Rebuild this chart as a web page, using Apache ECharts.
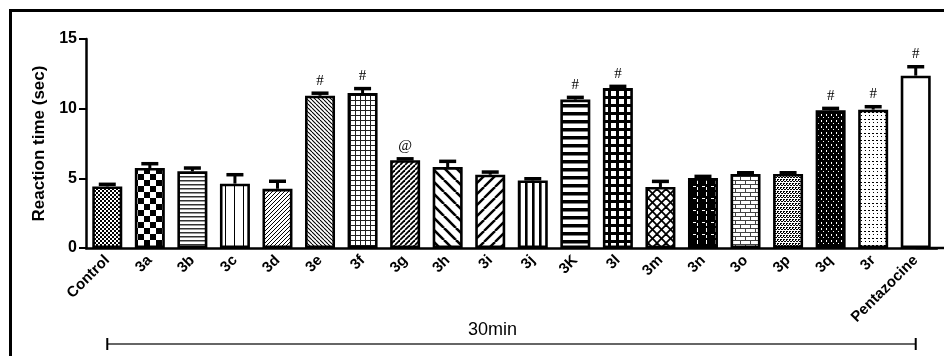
<!DOCTYPE html>
<html>
<head>
<meta charset="utf-8">
<script src="https://cdn.jsdelivr.net/npm/echarts@6/dist/echarts.min.js"></script>
<style>
  html, body { margin: 0; padding: 0; background: #fff; }
  #chart { width: 944px; height: 356px; }
</style>
</head>
<body>
<div id="chart"></div>
<script>
// Reaction time per compound at 30 min (mean and upper error)
const categories = ['Control', '3a', '3b', '3c', '3d', '3e', '3f', '3g', '3h', '3i', '3j',
  '3K', '3l', '3m', '3n', '3o', '3p', '3q', '3r', 'Pentazocine'];
const means = [4.42, 5.74, 5.50, 4.62, 4.25, 10.93, 11.12, 6.30, 5.81, 5.26, 4.85,
  10.65, 11.48, 4.38, 5.02, 5.31, 5.31, 9.88, 9.93, 12.37];
const errors = [0.15, 0.31, 0.24, 0.64, 0.54, 0.18, 0.32, 0.10, 0.41, 0.19, 0.12,
  0.16, 0.12, 0.40, 0.12, 0.09, 0.09, 0.14, 0.21, 0.64];
const marks = ['', '', '', '', '', '#', '#', '@', '', '', '',
  '#', '#', '', '', '', '', '#', '#', '#'];
const yTicks = [0, 5, 10, 15];
const yTitle = 'Reaction time (sec)';
const groupLabel = '30min';

// ---- fill patterns (one per bar) ----
function tile(w, h, bg, draw) {
  const c = document.createElement('canvas');
  c.width = w; c.height = h;
  const g = c.getContext('2d');
  g.fillStyle = bg; g.fillRect(0, 0, w, h);
  g.fillStyle = '#000'; g.strokeStyle = '#000';
  draw(g, w, h);
  return { image: c, repeat: 'repeat' };
}
function checker(s) {
  return tile(2 * s, 2 * s, '#fff', g => { g.fillRect(0, 0, s, s); g.fillRect(s, s, s, s); });
}
function hlines(p, w, col) {
  return tile(4, p, '#fff', g => { g.fillStyle = col || '#000'; g.fillRect(0, 0, 4, w); });
}
function vlines(p, w, col) {
  return tile(p, 4, '#fff', g => { g.fillStyle = col || '#000'; g.fillRect(0, 0, w, 4); });
}
function diag(p, w, dir) {
  return tile(p, p, '#fff', g => {
    g.lineWidth = w;
    for (let k = -1; k <= 1; k++) {
      g.beginPath();
      if (dir === '/') { g.moveTo(k * p, p); g.lineTo(k * p + p, 0); }
      else { g.moveTo(k * p, 0); g.lineTo(k * p + p, p); }
      g.stroke();
    }
  });
}
function grid(p, w, col) {
  return tile(p, p, '#fff', g => { g.fillStyle = col || '#000'; g.fillRect(0, 0, p, w); g.fillRect(0, 0, w, p); });
}
function cross(p, w) {
  return tile(p, p, '#fff', g => {
    g.lineWidth = w;
    for (let k = -1; k <= 1; k++) {
      g.beginPath(); g.moveTo(k * p, p); g.lineTo(k * p + p, 0); g.stroke();
      g.beginPath(); g.moveTo(k * p, 0); g.lineTo(k * p + p, p); g.stroke();
    }
  });
}
function pixels(w, h, bg, fg, pts) {
  return tile(w, h, bg, g => { g.fillStyle = fg; pts.forEach(q => g.fillRect(q[0], q[1], q[2] || 1, q[3] || 1)); });
}

const fills = [
  checker(2),                       // Control
  checker(6),                       // 3a
  tile(4, 4, '#fff', g => { g.fillStyle = '#333'; g.fillRect(0, 0, 4, 1); g.fillStyle = '#999'; g.fillRect(0, 1, 4, 1); }), // 3b
  vlines(9, 1),                     // 3c
  diag(4, 1, '/'),                  // 3d
  diag(4, 1.1, '\\'),               // 3e
  grid(5, 1, '#222'),               // 3f
  diag(5, 1.8, '/'),                // 3g
  diag(12, 2.6, '\\'),              // 3h
  diag(11, 2.4, '/'),               // 3i
  vlines(7, 2.6),                   // 3j
  hlines(8, 3.5),                   // 3K
  grid(8, 3),                       // 3l
  cross(9, 1.8),                    // 3m
  pixels(9, 12, '#000', '#fff', [[4, 0, 1, 4], [4, 7, 1, 3], [0, 6, 3, 1]]), // 3n
  tile(10, 8, '#fff', g => {        // 3o brick
    g.fillStyle = '#444';
    g.fillRect(0, 0, 10, 1); g.fillRect(0, 4, 10, 1);
    g.fillRect(0, 0, 1, 4); g.fillRect(5, 4, 1, 4);
  }),
  pixels(6, 4, '#fff', '#000', [[0, 0], [3, 0], [1, 1, 2, 1], [4, 1, 2, 1], [0, 3, 2, 1], [3, 3, 2, 1]]), // 3p
  pixels(5, 6, '#000', '#fff', [[1, 0, 1, 2], [3, 3, 1, 1]]), // 3q
  pixels(4, 7, '#fff', '#000', [[0, 0, 2, 1], [1, 3, 1, 1]]), // 3r
  '#fff'                            // Pentazocine
];

const font = '"Liberation Sans", Arial, sans-serif';

const chart = echarts.init(document.getElementById('chart'), null, { renderer: 'canvas' });

const option = {
  animation: false,
  backgroundColor: '#fff',
  grid: { left: 86, right: 7, top: 39, bottom: 108, containLabel: false },
  xAxis: {
    type: 'category',
    data: categories,
    boundaryGap: true,
    axisLine: { lineStyle: { color: '#000', width: 2.5 } },
    axisTick: { alignWithLabel: true, length: 6, lineStyle: { color: '#000', width: 2 } },
    axisLabel: {
      interval: 0, rotate: 45, margin: 10,
      color: '#000', fontFamily: font, fontWeight: 'bold', fontSize: 15
    },
    splitLine: { show: false }
  },
  yAxis: {
    type: 'value',
    min: yTicks[0], max: yTicks[yTicks.length - 1], interval: 5,
    name: yTitle,
    nameLocation: 'middle', nameRotate: 90, nameGap: 37,
    nameTextStyle: { color: '#000', fontFamily: font, fontWeight: 'bold', fontSize: 17 },
    axisLine: { show: true, lineStyle: { color: '#000', width: 2.5 } },
    axisTick: { show: true, length: 7, lineStyle: { color: '#000', width: 2 } },
    axisLabel: { margin: 9, color: '#000', fontFamily: font, fontWeight: 'bold', fontSize: 16 },
    splitLine: { show: false }
  },
  series: [
    {
      type: 'bar',
      barWidth: 30,
      data: means.map((m, i) => ({
        value: m,
        itemStyle: { color: fills[i], borderColor: '#000', borderWidth: 2.6 }
      })),
      z: 2
    },
    {
      type: 'custom',
      z: 3,
      data: means.map((m, i) => [i, m, errors[i]]),
      renderItem: function (params, api) {
        const i = api.value(0);
        const m = api.value(1);
        const e = api.value(2);
        const base = api.coord([i, m]);
        const top = api.coord([i, m + e]);
        const children = [
          { type: 'line', shape: { x1: base[0], y1: base[1], x2: top[0], y2: top[1] },
            style: { stroke: '#000', lineWidth: 3 } },
          { type: 'line', shape: { x1: top[0] - 8.5, y1: top[1], x2: top[0] + 8.5, y2: top[1] },
            style: { stroke: '#000', lineWidth: 3.5 } }
        ];
        const t = marks[params.dataIndex];
        if (t) {
          children.push({
            type: 'text',
            style: {
              text: t, x: top[0], y: top[1] - 5,
              align: 'center', verticalAlign: 'bottom',
              textAlign: 'center', textVerticalAlign: 'bottom',
              font: '15px "Liberation Serif", "Times New Roman", serif', fill: '#000'
            }
          });
        }
        return { type: 'group', children: children };
      }
    }
  ],
  graphic: [
    { id: 'frame', type: 'rect', silent: true,
      shape: { x: 10.5, y: 10.5, width: 1000, height: 1000 },
      style: { fill: null, stroke: '#000', lineWidth: 3 } }
  ]
};

chart.setOption(option);

// group bracket under the axis, spanning the first to the last category
const xa = chart.convertToPixel({ xAxisIndex: 0 }, 0);
const xb = chart.convertToPixel({ xAxisIndex: 0 }, categories.length - 1);
const y0 = chart.convertToPixel({ yAxisIndex: 0 }, 0);
const by = 344;
chart.setOption({
  graphic: [
    { id: 'axisExt', type: 'line', silent: true,
      shape: { x1: xb, y1: y0, x2: 944, y2: y0 },
      style: { stroke: '#000', lineWidth: 2.5 } },
    { id: 'bracket', type: 'line', silent: true,
      shape: { x1: xa, y1: by, x2: xb, y2: by },
      style: { stroke: '#333', lineWidth: 1.5 } },
    { id: 'bracketL', type: 'line', silent: true,
      shape: { x1: xa, y1: by - 6, x2: xa, y2: by + 6 },
      style: { stroke: '#000', lineWidth: 2 } },
    { id: 'bracketR', type: 'line', silent: true,
      shape: { x1: xb, y1: by - 6, x2: xb, y2: by + 6 },
      style: { stroke: '#000', lineWidth: 2 } },
    { id: 'groupText', type: 'text', silent: true,
      style: {
        text: groupLabel, x: (xa + xb) / 2 - 19, y: by - 5,
        align: 'center', verticalAlign: 'bottom',
        textAlign: 'center', textVerticalAlign: 'bottom',
        font: '18px ' + font, fill: '#000'
      } }
  ]
});
</script>
</body>
</html>
